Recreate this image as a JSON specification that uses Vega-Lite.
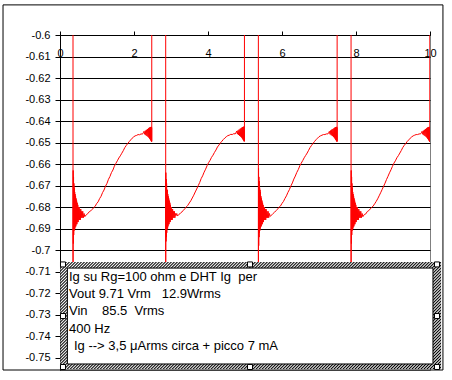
{
"$schema":"https://vega.github.io/schema/vega-lite/v6.json",
"width":370,"height":335,
"autosize":"none",
"padding":{"left":60,"top":35,"right":22,"bottom":10},
"background":"#ffffff",
"config":{"font":"Liberation Sans","view":{"stroke":"#808080","strokeWidth":1}},
"datasets":{
"wave":[
{"x":0,"y":-0.3},{"x":0.35,"y":-0.3},{"x":0.352,"y":-0.724},{"x":0.356,"y":-0.663},{"x":0.361,"y":-0.697},{"x":0.366,"y":-0.666},{"x":0.371,"y":-0.693},{"x":0.376,"y":-0.669},{"x":0.381,"y":-0.691},{"x":0.386,"y":-0.671},{"x":0.391,"y":-0.69},{"x":0.397,"y":-0.673},{"x":0.403,"y":-0.69},{"x":0.409,"y":-0.674},{"x":0.415,"y":-0.689},{"x":0.421,"y":-0.675},{"x":0.428,"y":-0.689},{"x":0.435,"y":-0.676},{"x":0.442,"y":-0.688},{"x":0.449,"y":-0.677},{"x":0.457,"y":-0.688},{"x":0.465,"y":-0.678},{"x":0.473,"y":-0.687},{"x":0.481,"y":-0.679},{"x":0.49,"y":-0.687},{"x":0.499,"y":-0.68},{"x":0.508,"y":-0.686},{"x":0.518,"y":-0.68},{"x":0.528,"y":-0.686},{"x":0.539,"y":-0.681},{"x":0.55,"y":-0.686},{"x":0.562,"y":-0.681},{"x":0.574,"y":-0.685},{"x":0.587,"y":-0.682},{"x":0.6,"y":-0.685},{"x":0.615,"y":-0.682},{"x":0.63,"y":-0.685},{"x":0.65,"y":-0.683},{"x":0.67,"y":-0.6845},
{"x":0.71,"y":-0.6836},{"x":0.75,"y":-0.6831},{"x":0.79,"y":-0.6822},{"x":0.83,"y":-0.6818},{"x":0.87,"y":-0.6811},{"x":0.91,"y":-0.6803},{"x":0.95,"y":-0.6797},{"x":0.99,"y":-0.6784},{"x":1.03,"y":-0.6776},{"x":1.07,"y":-0.6761},{"x":1.11,"y":-0.675},{"x":1.15,"y":-0.6733},{"x":1.19,"y":-0.6721},{"x":1.23,"y":-0.6703},{"x":1.27,"y":-0.669},{"x":1.31,"y":-0.6671},{"x":1.35,"y":-0.6658},{"x":1.39,"y":-0.664},{"x":1.43,"y":-0.6628},{"x":1.47,"y":-0.661},{"x":1.51,"y":-0.6597},{"x":1.55,"y":-0.6585},{"x":1.59,"y":-0.6572},{"x":1.63,"y":-0.6562},{"x":1.67,"y":-0.655},{"x":1.71,"y":-0.6538},{"x":1.75,"y":-0.6524},{"x":1.79,"y":-0.6514},{"x":1.83,"y":-0.6505},{"x":1.87,"y":-0.6496},{"x":1.91,"y":-0.6488},{"x":1.95,"y":-0.648},{"x":1.99,"y":-0.6474},{"x":2.03,"y":-0.6469},{"x":2.07,"y":-0.6467},{"x":2.11,"y":-0.6463},{"x":2.15,"y":-0.6464},{"x":2.19,"y":-0.646},{"x":2.23,"y":-0.6461},{"x":2.25,"y":-0.6455},
{"x":2.27,"y":-0.6448},{"x":2.29,"y":-0.6462},{"x":2.305,"y":-0.6445},{"x":2.32,"y":-0.6466},{"x":2.335,"y":-0.6441},{"x":2.35,"y":-0.647},{"x":2.365,"y":-0.6437},{"x":2.38,"y":-0.6474},{"x":2.392,"y":-0.6434},{"x":2.404,"y":-0.6478},{"x":2.415,"y":-0.6431},{"x":2.425,"y":-0.6483},{"x":2.434,"y":-0.6429},{"x":2.443,"y":-0.6488},{"x":2.451,"y":-0.6428},{"x":2.459,"y":-0.6492},{"x":2.466,"y":-0.6427},{"x":2.472,"y":-0.6496},{"x":2.477,"y":-0.643},{"x":2.48,"y":-0.6495},{"x":2.481,"y":-0.3},
{"x":2.855,"y":-0.3},{"x":2.857,"y":-0.722},{"x":2.861,"y":-0.664},{"x":2.866,"y":-0.696},{"x":2.871,"y":-0.667},{"x":2.876,"y":-0.694},{"x":2.881,"y":-0.669},{"x":2.886,"y":-0.692},{"x":2.891,"y":-0.672},{"x":2.896,"y":-0.69},{"x":2.902,"y":-0.672},{"x":2.908,"y":-0.69},{"x":2.914,"y":-0.674},{"x":2.92,"y":-0.689},{"x":2.926,"y":-0.675},{"x":2.933,"y":-0.688},{"x":2.94,"y":-0.676},{"x":2.947,"y":-0.688},{"x":2.954,"y":-0.677},{"x":2.962,"y":-0.687},{"x":2.97,"y":-0.678},{"x":2.978,"y":-0.687},{"x":2.986,"y":-0.679},{"x":2.995,"y":-0.686},{"x":3.004,"y":-0.68},{"x":3.013,"y":-0.686},{"x":3.023,"y":-0.681},{"x":3.033,"y":-0.686},{"x":3.044,"y":-0.681},{"x":3.055,"y":-0.685},{"x":3.067,"y":-0.682},{"x":3.079,"y":-0.685},{"x":3.092,"y":-0.682},{"x":3.105,"y":-0.685},{"x":3.12,"y":-0.683},{"x":3.135,"y":-0.684},{"x":3.155,"y":-0.683},{"x":3.175,"y":-0.6842},
{"x":3.215,"y":-0.6834},{"x":3.255,"y":-0.6829},{"x":3.295,"y":-0.6823},{"x":3.335,"y":-0.6815},{"x":3.375,"y":-0.6808},{"x":3.415,"y":-0.6799},{"x":3.455,"y":-0.6792},{"x":3.495,"y":-0.6781},{"x":3.535,"y":-0.6771},{"x":3.575,"y":-0.6758},{"x":3.615,"y":-0.6745},{"x":3.655,"y":-0.673},{"x":3.695,"y":-0.6716},{"x":3.735,"y":-0.6701},{"x":3.775,"y":-0.6686},{"x":3.815,"y":-0.6668},{"x":3.855,"y":-0.6655},{"x":3.895,"y":-0.6638},{"x":3.935,"y":-0.6624},{"x":3.975,"y":-0.6608},{"x":4.015,"y":-0.6594},{"x":4.055,"y":-0.6583},{"x":4.095,"y":-0.6569},{"x":4.135,"y":-0.6559},{"x":4.175,"y":-0.6546},{"x":4.215,"y":-0.6535},{"x":4.255,"y":-0.6521},{"x":4.295,"y":-0.6512},{"x":4.335,"y":-0.6502},{"x":4.375,"y":-0.6494},{"x":4.415,"y":-0.6486},{"x":4.455,"y":-0.6479},{"x":4.495,"y":-0.6473},{"x":4.535,"y":-0.6468},{"x":4.575,"y":-0.6466},{"x":4.615,"y":-0.6462},{"x":4.655,"y":-0.6463},{"x":4.695,"y":-0.6459},{"x":4.735,"y":-0.646},{"x":4.755,"y":-0.6454},
{"x":4.775,"y":-0.6447},{"x":4.795,"y":-0.6461},{"x":4.81,"y":-0.6444},{"x":4.825,"y":-0.6465},{"x":4.84,"y":-0.644},{"x":4.855,"y":-0.6469},{"x":4.87,"y":-0.6436},{"x":4.885,"y":-0.6473},{"x":4.897,"y":-0.6433},{"x":4.909,"y":-0.6477},{"x":4.92,"y":-0.643},{"x":4.93,"y":-0.6482},{"x":4.939,"y":-0.6428},{"x":4.948,"y":-0.6487},{"x":4.956,"y":-0.6427},{"x":4.964,"y":-0.6491},{"x":4.971,"y":-0.6426},{"x":4.977,"y":-0.6495},{"x":4.982,"y":-0.6429},{"x":4.985,"y":-0.6494},{"x":4.986,"y":-0.3},
{"x":5.36,"y":-0.3},{"x":5.362,"y":-0.723},{"x":5.366,"y":-0.662},{"x":5.371,"y":-0.698},{"x":5.376,"y":-0.666},{"x":5.381,"y":-0.694},{"x":5.386,"y":-0.668},{"x":5.391,"y":-0.692},{"x":5.396,"y":-0.671},{"x":5.401,"y":-0.691},{"x":5.407,"y":-0.672},{"x":5.413,"y":-0.69},{"x":5.419,"y":-0.673},{"x":5.425,"y":-0.689},{"x":5.431,"y":-0.675},{"x":5.438,"y":-0.689},{"x":5.445,"y":-0.676},{"x":5.452,"y":-0.688},{"x":5.459,"y":-0.677},{"x":5.467,"y":-0.688},{"x":5.475,"y":-0.678},{"x":5.483,"y":-0.687},{"x":5.491,"y":-0.679},{"x":5.5,"y":-0.687},{"x":5.509,"y":-0.68},{"x":5.518,"y":-0.686},{"x":5.528,"y":-0.68},{"x":5.538,"y":-0.686},{"x":5.549,"y":-0.681},{"x":5.56,"y":-0.686},{"x":5.572,"y":-0.681},{"x":5.584,"y":-0.685},{"x":5.597,"y":-0.682},{"x":5.61,"y":-0.685},{"x":5.625,"y":-0.682},{"x":5.64,"y":-0.685},{"x":5.66,"y":-0.683},{"x":5.68,"y":-0.6844},
{"x":5.72,"y":-0.6837},{"x":5.76,"y":-0.683},{"x":5.8,"y":-0.6824},{"x":5.84,"y":-0.6817},{"x":5.88,"y":-0.681},{"x":5.92,"y":-0.6801},{"x":5.96,"y":-0.6795},{"x":6.0,"y":-0.6783},{"x":6.04,"y":-0.6774},{"x":6.08,"y":-0.676},{"x":6.12,"y":-0.6748},{"x":6.16,"y":-0.6732},{"x":6.2,"y":-0.6719},{"x":6.24,"y":-0.6702},{"x":6.28,"y":-0.6688},{"x":6.32,"y":-0.667},{"x":6.36,"y":-0.6656},{"x":6.4,"y":-0.6639},{"x":6.44,"y":-0.6626},{"x":6.48,"y":-0.6609},{"x":6.52,"y":-0.6596},{"x":6.56,"y":-0.6584},{"x":6.6,"y":-0.6571},{"x":6.64,"y":-0.656},{"x":6.68,"y":-0.6549},{"x":6.72,"y":-0.6536},{"x":6.76,"y":-0.6523},{"x":6.8,"y":-0.6513},{"x":6.84,"y":-0.6504},{"x":6.88,"y":-0.6495},{"x":6.92,"y":-0.6487},{"x":6.96,"y":-0.648},{"x":7.0,"y":-0.6473},{"x":7.04,"y":-0.6469},{"x":7.08,"y":-0.6466},{"x":7.12,"y":-0.6463},{"x":7.16,"y":-0.6463},{"x":7.2,"y":-0.646},{"x":7.24,"y":-0.646},{"x":7.26,"y":-0.6455},
{"x":7.28,"y":-0.6448},{"x":7.3,"y":-0.6462},{"x":7.315,"y":-0.6444},{"x":7.33,"y":-0.6466},{"x":7.345,"y":-0.644},{"x":7.36,"y":-0.647},{"x":7.375,"y":-0.6437},{"x":7.39,"y":-0.6474},{"x":7.402,"y":-0.6434},{"x":7.414,"y":-0.6478},{"x":7.425,"y":-0.6431},{"x":7.435,"y":-0.6483},{"x":7.444,"y":-0.6429},{"x":7.453,"y":-0.6488},{"x":7.461,"y":-0.6428},{"x":7.469,"y":-0.6492},{"x":7.476,"y":-0.6427},{"x":7.482,"y":-0.6496},{"x":7.487,"y":-0.643},{"x":7.49,"y":-0.6495},{"x":7.491,"y":-0.3},
{"x":7.865,"y":-0.3},{"x":7.867,"y":-0.724},{"x":7.871,"y":-0.663},{"x":7.876,"y":-0.697},{"x":7.881,"y":-0.666},{"x":7.886,"y":-0.693},{"x":7.891,"y":-0.669},{"x":7.896,"y":-0.691},{"x":7.901,"y":-0.671},{"x":7.906,"y":-0.69},{"x":7.912,"y":-0.673},{"x":7.918,"y":-0.69},{"x":7.924,"y":-0.674},{"x":7.93,"y":-0.689},{"x":7.936,"y":-0.675},{"x":7.943,"y":-0.689},{"x":7.95,"y":-0.676},{"x":7.957,"y":-0.688},{"x":7.964,"y":-0.677},{"x":7.972,"y":-0.688},{"x":7.98,"y":-0.678},{"x":7.988,"y":-0.687},{"x":7.996,"y":-0.679},{"x":8.005,"y":-0.687},{"x":8.014,"y":-0.68},{"x":8.023,"y":-0.686},{"x":8.033,"y":-0.68},{"x":8.043,"y":-0.686},{"x":8.054,"y":-0.681},{"x":8.065,"y":-0.686},{"x":8.077,"y":-0.681},{"x":8.089,"y":-0.685},{"x":8.102,"y":-0.682},{"x":8.115,"y":-0.685},{"x":8.13,"y":-0.682},{"x":8.145,"y":-0.685},{"x":8.165,"y":-0.683},{"x":8.185,"y":-0.6845},
{"x":8.225,"y":-0.6835},{"x":8.265,"y":-0.6832},{"x":8.305,"y":-0.6821},{"x":8.345,"y":-0.6817},{"x":8.385,"y":-0.6809},{"x":8.425,"y":-0.6802},{"x":8.465,"y":-0.6795},{"x":8.505,"y":-0.6785},{"x":8.545,"y":-0.6774},{"x":8.585,"y":-0.6762},{"x":8.625,"y":-0.6748},{"x":8.665,"y":-0.6734},{"x":8.705,"y":-0.6719},{"x":8.745,"y":-0.6704},{"x":8.785,"y":-0.6689},{"x":8.825,"y":-0.6672},{"x":8.865,"y":-0.6657},{"x":8.905,"y":-0.6641},{"x":8.945,"y":-0.6627},{"x":8.985,"y":-0.6611},{"x":9.025,"y":-0.6596},{"x":9.065,"y":-0.6585},{"x":9.105,"y":-0.6571},{"x":9.145,"y":-0.6561},{"x":9.185,"y":-0.6549},{"x":9.225,"y":-0.6537},{"x":9.265,"y":-0.6523},{"x":9.305,"y":-0.6513},{"x":9.345,"y":-0.6505},{"x":9.385,"y":-0.6495},{"x":9.425,"y":-0.6488},{"x":9.465,"y":-0.648},{"x":9.505,"y":-0.6474},{"x":9.545,"y":-0.6469},{"x":9.585,"y":-0.6466},{"x":9.625,"y":-0.6463},{"x":9.665,"y":-0.6463},{"x":9.705,"y":-0.646},{"x":9.745,"y":-0.646},{"x":9.765,"y":-0.6455},
{"x":9.785,"y":-0.6448},{"x":9.805,"y":-0.6462},{"x":9.82,"y":-0.6445},{"x":9.835,"y":-0.6466},{"x":9.85,"y":-0.6441},{"x":9.865,"y":-0.647},{"x":9.88,"y":-0.6437},{"x":9.895,"y":-0.6474},{"x":9.907,"y":-0.6434},{"x":9.919,"y":-0.6478},{"x":9.93,"y":-0.6431},{"x":9.94,"y":-0.6483},{"x":9.949,"y":-0.6429},{"x":9.958,"y":-0.6488},{"x":9.966,"y":-0.6428},{"x":9.974,"y":-0.6492},{"x":9.981,"y":-0.6427},{"x":9.987,"y":-0.6496},{"x":9.992,"y":-0.643},{"x":9.995,"y":-0.6495},{"x":9.996,"y":-0.3},{"x":10,"y":-0.3}
],
"handles":[
{"x":0.081,"y":-0.7067},{"x":5.135,"y":-0.7067},{"x":10.189,"y":-0.7067},
{"x":0.081,"y":-0.7307},{"x":10.189,"y":-0.7307},
{"x":0.081,"y":-0.7544},{"x":5.135,"y":-0.7544},{"x":10.189,"y":-0.7544}
]
},
"layer":[
{
"data":{"name":"wave"},
"mark":{"type":"line","color":"#ff0000","strokeWidth":1,"clip":true,"interpolate":"linear"},
"encoding":{
"x":{"field":"x","type":"quantitative","scale":{"domain":[0,10],"nice":false,"zero":false},
"axis":{"orient":"top","values":[0,2,4,6,8,10],"tickCount":20,"labelExpr":"toString(datum.value)","labelFlush":false,"labelOverlap":false,"labelPadding":-16,"labelBaseline":"top","tickSize":4,"tickColor":"#000000","domainColor":"#000000","labelColor":"#000000","labelFontSize":11,"labelFont":"Liberation Sans","grid":false,"title":null}},
"y":{"field":"y","type":"quantitative","scale":{"domain":[-0.7558,-0.6],"nice":false,"zero":false},
"axis":{"values":[-0.6,-0.61,-0.62,-0.63,-0.64,-0.65,-0.66,-0.67,-0.68,-0.69,-0.7,-0.71,-0.72,-0.73,-0.74,-0.75],"tickCount":40,"labelExpr":"toString(datum.value)","grid":true,"gridColor":"#000000","gridOpacity":1,"gridWidth":1,"tickSize":5,"labelPadding":5,"tickColor":"#000000","domainColor":"#000000","labelColor":"#000000","labelFontSize":11,"labelFont":"Liberation Sans","labelOverlap":false,"title":null}}
}
},
{
"data":{"values":[{}]},
"mark":{"type":"rect","fill":null,"fillOpacity":0,"stroke":"#000000","strokeWidth":1,"clip":false},
"encoding":{
"x":{"datum":-1.54,"type":"quantitative","scale":{"domain":[0,10],"nice":false,"zero":false}},
"x2":{"datum":10.35},
"y":{"datum":-0.586,"type":"quantitative","scale":{"domain":[-0.7558,-0.6],"nice":false,"zero":false}},
"y2":{"datum":-0.7558}
}
},
{
"data":{"values":[{}]},
"mark":{"type":"rect","clip":false,"fill":{"gradient":"linear","x1":0,"y1":0,"x2":1.4597,"y2":0.4099,"stops":[
{"offset":0,"color":"#000"},{"offset":0.0025,"color":"#fff"},{"offset":0.005,"color":"#000"},{"offset":0.0075,"color":"#fff"},
{"offset":0.01,"color":"#000"},{"offset":0.0125,"color":"#fff"},{"offset":0.015,"color":"#000"},{"offset":0.0175,"color":"#fff"},
{"offset":0.02,"color":"#000"},{"offset":0.0225,"color":"#fff"},{"offset":0.025,"color":"#000"},{"offset":0.0275,"color":"#fff"},
{"offset":0.03,"color":"#000"},{"offset":0.0325,"color":"#fff"},{"offset":0.035,"color":"#000"},{"offset":0.0375,"color":"#fff"},
{"offset":0.04,"color":"#000"},{"offset":0.0425,"color":"#fff"},{"offset":0.045,"color":"#000"},{"offset":0.0475,"color":"#fff"},
{"offset":0.05,"color":"#000"},{"offset":0.0525,"color":"#fff"},{"offset":0.055,"color":"#000"},{"offset":0.0575,"color":"#fff"},
{"offset":0.06,"color":"#000"},{"offset":0.0625,"color":"#fff"},{"offset":0.065,"color":"#000"},{"offset":0.0675,"color":"#fff"},
{"offset":0.07,"color":"#000"},{"offset":0.0725,"color":"#fff"},{"offset":0.075,"color":"#000"},{"offset":0.0775,"color":"#fff"},
{"offset":0.08,"color":"#000"},{"offset":0.0825,"color":"#fff"},{"offset":0.085,"color":"#000"},{"offset":0.0875,"color":"#fff"},
{"offset":0.09,"color":"#000"},{"offset":0.0925,"color":"#fff"},{"offset":0.095,"color":"#000"},{"offset":0.0975,"color":"#fff"},
{"offset":0.1,"color":"#000"},{"offset":0.1025,"color":"#fff"},{"offset":0.105,"color":"#000"},{"offset":0.1075,"color":"#fff"},
{"offset":0.11,"color":"#000"},{"offset":0.1125,"color":"#fff"},{"offset":0.115,"color":"#000"},{"offset":0.1175,"color":"#fff"},
{"offset":0.12,"color":"#000"},{"offset":0.1225,"color":"#fff"},{"offset":0.125,"color":"#000"},{"offset":0.1275,"color":"#fff"},
{"offset":0.13,"color":"#000"},{"offset":0.1325,"color":"#fff"},{"offset":0.135,"color":"#000"},{"offset":0.1375,"color":"#fff"},
{"offset":0.14,"color":"#000"},{"offset":0.1425,"color":"#fff"},{"offset":0.145,"color":"#000"},{"offset":0.1475,"color":"#fff"},
{"offset":0.15,"color":"#000"},{"offset":0.1525,"color":"#fff"},{"offset":0.155,"color":"#000"},{"offset":0.1575,"color":"#fff"},
{"offset":0.16,"color":"#000"},{"offset":0.1625,"color":"#fff"},{"offset":0.165,"color":"#000"},{"offset":0.1675,"color":"#fff"},
{"offset":0.17,"color":"#000"},{"offset":0.1725,"color":"#fff"},{"offset":0.175,"color":"#000"},{"offset":0.1775,"color":"#fff"},
{"offset":0.18,"color":"#000"},{"offset":0.1825,"color":"#fff"},{"offset":0.185,"color":"#000"},{"offset":0.1875,"color":"#fff"},
{"offset":0.19,"color":"#000"},{"offset":0.1925,"color":"#fff"},{"offset":0.195,"color":"#000"},{"offset":0.1975,"color":"#fff"},
{"offset":0.2,"color":"#000"},{"offset":0.2025,"color":"#fff"},{"offset":0.205,"color":"#000"},{"offset":0.2075,"color":"#fff"},
{"offset":0.21,"color":"#000"},{"offset":0.2125,"color":"#fff"},{"offset":0.215,"color":"#000"},{"offset":0.2175,"color":"#fff"},
{"offset":0.22,"color":"#000"},{"offset":0.2225,"color":"#fff"},{"offset":0.225,"color":"#000"},{"offset":0.2275,"color":"#fff"},
{"offset":0.23,"color":"#000"},{"offset":0.2325,"color":"#fff"},{"offset":0.235,"color":"#000"},{"offset":0.2375,"color":"#fff"},
{"offset":0.24,"color":"#000"},{"offset":0.2425,"color":"#fff"},{"offset":0.245,"color":"#000"},{"offset":0.2475,"color":"#fff"},
{"offset":0.25,"color":"#000"},{"offset":0.2525,"color":"#fff"},{"offset":0.255,"color":"#000"},{"offset":0.2575,"color":"#fff"},
{"offset":0.26,"color":"#000"},{"offset":0.2625,"color":"#fff"},{"offset":0.265,"color":"#000"},{"offset":0.2675,"color":"#fff"},
{"offset":0.27,"color":"#000"},{"offset":0.2725,"color":"#fff"},{"offset":0.275,"color":"#000"},{"offset":0.2775,"color":"#fff"},
{"offset":0.28,"color":"#000"},{"offset":0.2825,"color":"#fff"},{"offset":0.285,"color":"#000"},{"offset":0.2875,"color":"#fff"},
{"offset":0.29,"color":"#000"},{"offset":0.2925,"color":"#fff"},{"offset":0.295,"color":"#000"},{"offset":0.2975,"color":"#fff"},
{"offset":0.3,"color":"#000"},{"offset":0.3025,"color":"#fff"},{"offset":0.305,"color":"#000"},{"offset":0.3075,"color":"#fff"},
{"offset":0.31,"color":"#000"},{"offset":0.3125,"color":"#fff"},{"offset":0.315,"color":"#000"},{"offset":0.3175,"color":"#fff"},
{"offset":0.32,"color":"#000"},{"offset":0.3225,"color":"#fff"},{"offset":0.325,"color":"#000"},{"offset":0.3275,"color":"#fff"},
{"offset":0.33,"color":"#000"},{"offset":0.3325,"color":"#fff"},{"offset":0.335,"color":"#000"},{"offset":0.3375,"color":"#fff"},
{"offset":0.34,"color":"#000"},{"offset":0.3425,"color":"#fff"},{"offset":0.345,"color":"#000"},{"offset":0.3475,"color":"#fff"},
{"offset":0.35,"color":"#000"},{"offset":0.3525,"color":"#fff"},{"offset":0.355,"color":"#000"},{"offset":0.3575,"color":"#fff"},
{"offset":0.36,"color":"#000"},{"offset":0.3625,"color":"#fff"},{"offset":0.365,"color":"#000"},{"offset":0.3675,"color":"#fff"},
{"offset":0.37,"color":"#000"},{"offset":0.3725,"color":"#fff"},{"offset":0.375,"color":"#000"},{"offset":0.3775,"color":"#fff"},
{"offset":0.38,"color":"#000"},{"offset":0.3825,"color":"#fff"},{"offset":0.385,"color":"#000"},{"offset":0.3875,"color":"#fff"},
{"offset":0.39,"color":"#000"},{"offset":0.3925,"color":"#fff"},{"offset":0.395,"color":"#000"},{"offset":0.3975,"color":"#fff"},
{"offset":0.4,"color":"#000"},{"offset":0.4025,"color":"#fff"},{"offset":0.405,"color":"#000"},{"offset":0.4075,"color":"#fff"},
{"offset":0.41,"color":"#000"},{"offset":0.4125,"color":"#fff"},{"offset":0.415,"color":"#000"},{"offset":0.4175,"color":"#fff"},
{"offset":0.42,"color":"#000"},{"offset":0.4225,"color":"#fff"},{"offset":0.425,"color":"#000"},{"offset":0.4275,"color":"#fff"},
{"offset":0.43,"color":"#000"},{"offset":0.4325,"color":"#fff"},{"offset":0.435,"color":"#000"},{"offset":0.4375,"color":"#fff"},
{"offset":0.44,"color":"#000"},{"offset":0.4425,"color":"#fff"},{"offset":0.445,"color":"#000"},{"offset":0.4475,"color":"#fff"},
{"offset":0.45,"color":"#000"},{"offset":0.4525,"color":"#fff"},{"offset":0.455,"color":"#000"},{"offset":0.4575,"color":"#fff"},
{"offset":0.46,"color":"#000"},{"offset":0.4625,"color":"#fff"},{"offset":0.465,"color":"#000"},{"offset":0.4675,"color":"#fff"},
{"offset":0.47,"color":"#000"},{"offset":0.4725,"color":"#fff"},{"offset":0.475,"color":"#000"},{"offset":0.4775,"color":"#fff"},
{"offset":0.48,"color":"#000"},{"offset":0.4825,"color":"#fff"},{"offset":0.485,"color":"#000"},{"offset":0.4875,"color":"#fff"},
{"offset":0.49,"color":"#000"},{"offset":0.4925,"color":"#fff"},{"offset":0.495,"color":"#000"},{"offset":0.4975,"color":"#fff"},
{"offset":0.5,"color":"#000"},{"offset":0.5025,"color":"#fff"},{"offset":0.505,"color":"#000"},{"offset":0.5075,"color":"#fff"},
{"offset":0.51,"color":"#000"},{"offset":0.5125,"color":"#fff"},{"offset":0.515,"color":"#000"},{"offset":0.5175,"color":"#fff"},
{"offset":0.52,"color":"#000"},{"offset":0.5225,"color":"#fff"},{"offset":0.525,"color":"#000"},{"offset":0.5275,"color":"#fff"},
{"offset":0.53,"color":"#000"},{"offset":0.5325,"color":"#fff"},{"offset":0.535,"color":"#000"},{"offset":0.5375,"color":"#fff"},
{"offset":0.54,"color":"#000"},{"offset":0.5425,"color":"#fff"},{"offset":0.545,"color":"#000"},{"offset":0.5475,"color":"#fff"},
{"offset":0.55,"color":"#000"},{"offset":0.5525,"color":"#fff"},{"offset":0.555,"color":"#000"},{"offset":0.5575,"color":"#fff"},
{"offset":0.56,"color":"#000"},{"offset":0.5625,"color":"#fff"},{"offset":0.565,"color":"#000"},{"offset":0.5675,"color":"#fff"},
{"offset":0.57,"color":"#000"},{"offset":0.5725,"color":"#fff"},{"offset":0.575,"color":"#000"},{"offset":0.5775,"color":"#fff"},
{"offset":0.58,"color":"#000"},{"offset":0.5825,"color":"#fff"},{"offset":0.585,"color":"#000"},{"offset":0.5875,"color":"#fff"},
{"offset":0.59,"color":"#000"},{"offset":0.5925,"color":"#fff"},{"offset":0.595,"color":"#000"},{"offset":0.5975,"color":"#fff"},
{"offset":0.6,"color":"#000"},{"offset":0.6025,"color":"#fff"},{"offset":0.605,"color":"#000"},{"offset":0.6075,"color":"#fff"},
{"offset":0.61,"color":"#000"},{"offset":0.6125,"color":"#fff"},{"offset":0.615,"color":"#000"},{"offset":0.6175,"color":"#fff"},
{"offset":0.62,"color":"#000"},{"offset":0.6225,"color":"#fff"},{"offset":0.625,"color":"#000"},{"offset":0.6275,"color":"#fff"},
{"offset":0.63,"color":"#000"},{"offset":0.6325,"color":"#fff"},{"offset":0.635,"color":"#000"},{"offset":0.6375,"color":"#fff"},
{"offset":0.64,"color":"#000"},{"offset":0.6425,"color":"#fff"},{"offset":0.645,"color":"#000"},{"offset":0.6475,"color":"#fff"},
{"offset":0.65,"color":"#000"},{"offset":0.6525,"color":"#fff"},{"offset":0.655,"color":"#000"},{"offset":0.6575,"color":"#fff"},
{"offset":0.66,"color":"#000"},{"offset":0.6625,"color":"#fff"},{"offset":0.665,"color":"#000"},{"offset":0.6675,"color":"#fff"},
{"offset":0.67,"color":"#000"},{"offset":0.6725,"color":"#fff"},{"offset":0.675,"color":"#000"},{"offset":0.6775,"color":"#fff"},
{"offset":0.68,"color":"#000"},{"offset":0.6825,"color":"#fff"},{"offset":0.685,"color":"#000"},{"offset":0.6875,"color":"#fff"},
{"offset":0.69,"color":"#000"},{"offset":0.6925,"color":"#fff"},{"offset":0.695,"color":"#000"},{"offset":0.6975,"color":"#fff"},
{"offset":0.7,"color":"#000"},{"offset":0.7025,"color":"#fff"},{"offset":0.705,"color":"#000"},{"offset":0.7075,"color":"#fff"},
{"offset":0.71,"color":"#000"},{"offset":0.7125,"color":"#fff"},{"offset":0.715,"color":"#000"},{"offset":0.7175,"color":"#fff"},
{"offset":0.72,"color":"#000"},{"offset":0.7225,"color":"#fff"},{"offset":0.725,"color":"#000"},{"offset":0.7275,"color":"#fff"},
{"offset":0.73,"color":"#000"},{"offset":0.7325,"color":"#fff"},{"offset":0.735,"color":"#000"},{"offset":0.7375,"color":"#fff"},
{"offset":0.74,"color":"#000"},{"offset":0.7425,"color":"#fff"},{"offset":0.745,"color":"#000"},{"offset":0.7475,"color":"#fff"},
{"offset":0.75,"color":"#000"},{"offset":0.7525,"color":"#fff"},{"offset":0.755,"color":"#000"},{"offset":0.7575,"color":"#fff"},
{"offset":0.76,"color":"#000"},{"offset":0.7625,"color":"#fff"},{"offset":0.765,"color":"#000"},{"offset":0.7675,"color":"#fff"},
{"offset":0.77,"color":"#000"},{"offset":0.7725,"color":"#fff"},{"offset":0.775,"color":"#000"},{"offset":0.7775,"color":"#fff"},
{"offset":0.78,"color":"#000"},{"offset":0.7825,"color":"#fff"},{"offset":0.785,"color":"#000"},{"offset":0.7875,"color":"#fff"},
{"offset":0.79,"color":"#000"},{"offset":0.7925,"color":"#fff"},{"offset":0.795,"color":"#000"},{"offset":0.7975,"color":"#fff"},
{"offset":0.8,"color":"#000"},{"offset":0.8025,"color":"#fff"},{"offset":0.805,"color":"#000"},{"offset":0.8075,"color":"#fff"},
{"offset":0.81,"color":"#000"},{"offset":0.8125,"color":"#fff"},{"offset":0.815,"color":"#000"},{"offset":0.8175,"color":"#fff"}
]}},
"encoding":{
"x":{"datum":0.01,"type":"quantitative","scale":{"domain":[0,10],"nice":false,"zero":false}},
"x2":{"datum":10.3},
"y":{"datum":-0.7056,"type":"quantitative","scale":{"domain":[-0.7558,-0.6],"nice":false,"zero":false}},
"y2":{"datum":-0.7553}
}
},
{
"data":{"values":[{}]},
"mark":{"type":"rect","fill":"#ffffff","stroke":"#000000","strokeWidth":1,"clip":false},
"encoding":{
"x":{"datum":0.2,"type":"quantitative","scale":{"domain":[0,10],"nice":false,"zero":false}},
"x2":{"datum":10.08},
"y":{"datum":-0.7084,"type":"quantitative","scale":{"domain":[-0.7558,-0.6],"nice":false,"zero":false}},
"y2":{"datum":-0.753}
}
},
{
"data":{"values":[{}]},
"mark":{"type":"text","align":"left","baseline":"middle","lineHeight":17.3,"fontSize":13,"font":"Liberation Sans","color":"#000000","clip":false,
"text":["Ig su Rg=100 ohm e DHT Ig\u00a0\u00a0per","Vout 9.71 Vrm\u00a0\u00a0\u00a012.9Wrms","Vin\u00a0\u00a0\u00a0\u00a085.5\u00a0\u00a0Vrms","400 Hz"]},
"encoding":{
"x":{"datum":0.243,"type":"quantitative","scale":{"domain":[0,10],"nice":false,"zero":false}},
"y":{"datum":-0.7125,"type":"quantitative","scale":{"domain":[-0.7558,-0.6],"nice":false,"zero":false}}
}
},
{
"data":{"values":[{}]},
"mark":{"type":"text","align":"left","baseline":"middle","fontSize":13,"font":"Liberation Sans","color":"#000000","clip":false,"dx":5,
"text":"Ig --> 3,5 μArms circa + picco 7 mA"},
"encoding":{
"x":{"datum":0.243,"type":"quantitative","scale":{"domain":[0,10],"nice":false,"zero":false}},
"y":{"datum":-0.7447,"type":"quantitative","scale":{"domain":[-0.7558,-0.6],"nice":false,"zero":false}}
}
},
{
"data":{"name":"handles"},
"mark":{"type":"point","shape":"square","size":25,"filled":true,"fill":"#ffffff","stroke":"#000000","strokeWidth":1,"opacity":1,"clip":false},
"encoding":{
"x":{"field":"x","type":"quantitative","scale":{"domain":[0,10],"nice":false,"zero":false}},
"y":{"field":"y","type":"quantitative","scale":{"domain":[-0.7558,-0.6],"nice":false,"zero":false}}
}
}
]
}
